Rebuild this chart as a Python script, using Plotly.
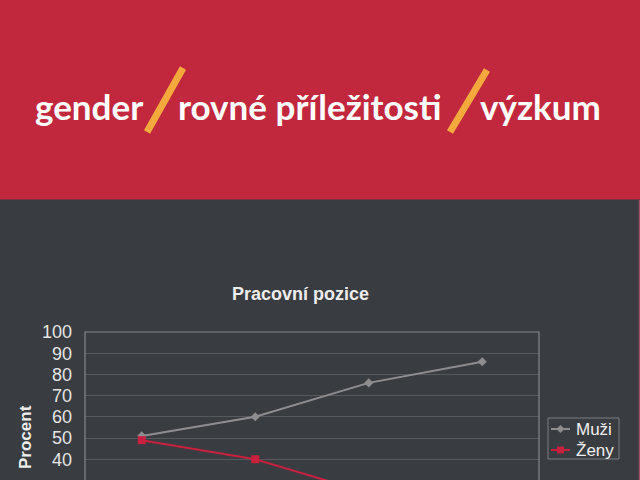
import plotly.graph_objects as go

categories = ["1", "2", "3", "4"]
muzi = [51, 60, 76, 86]
zeny = [49, 40, 24, 14]
series_names = ["Muži", "Ženy"]
chart_title = "Pracovní pozice"
y_title = "Procent"
banner_parts = ["gender", "rovné příležitosti", "výzkum"]

W, H = 640, 480
L, R = 85, 539      # plot area left/right in px
T, B = 332, 480     # plot area top/bottom in px

def px(xp):
    return (xp - L) / (R - L)

def py(yp):
    return (B - yp) / (B - T)

DARK = "#393C40"
RED = "#C1283E"
ORANGE = "#F3A93C"
GRAY_LINE = "#8E8E90"
RED_LINE = "#C8213F"

fig = go.Figure()
fig.add_trace(go.Scatter(
    x=categories, y=muzi, name=series_names[0], mode="lines+markers",
    line=dict(color=GRAY_LINE, width=2),
    marker=dict(symbol="diamond", size=7, color=GRAY_LINE),
))
fig.add_trace(go.Scatter(
    x=categories, y=zeny, name=series_names[1], mode="lines+markers",
    line=dict(color=RED_LINE, width=2),
    marker=dict(symbol="square", size=8, color=RED_LINE),
))

# legend geometry (px)
LEG_Y = [429, 450]
LEG_X0, LEG_X1, LEG_XM = 551, 570, 560.5

shapes = [
    # red banner
    dict(type="rect", xref="paper", yref="paper", x0=px(-20), x1=px(660),
         y0=py(199.5), y1=py(-20), fillcolor=RED, line=dict(width=0), layer="below"),
    # plot frame (bottom off-canvas)
    dict(type="rect", xref="paper", yref="paper", x0=0, x1=1, y0=py(520), y1=1,
         line=dict(color="#85878A", width=1.2), fillcolor="rgba(0,0,0,0)"),
    # legend box
    dict(type="rect", xref="paper", yref="paper", x0=px(548), x1=px(619), y0=py(459), y1=py(418),
         line=dict(color="#7A7C80", width=1), fillcolor="rgba(0,0,0,0)"),
    # legend samples
    dict(type="line", xref="paper", yref="paper", x0=px(LEG_X0), x1=px(LEG_X1),
         y0=py(LEG_Y[0]), y1=py(LEG_Y[0]), line=dict(color=GRAY_LINE, width=2)),
    dict(type="path", xref="paper", yref="paper",
         path=(f"M {px(LEG_XM - 4)} {py(LEG_Y[0])} L {px(LEG_XM)} {py(LEG_Y[0] - 4)} "
               f"L {px(LEG_XM + 4)} {py(LEG_Y[0])} L {px(LEG_XM)} {py(LEG_Y[0] + 4)} Z"),
         fillcolor=GRAY_LINE, line=dict(width=0)),
    dict(type="line", xref="paper", yref="paper", x0=px(LEG_X0), x1=px(LEG_X1),
         y0=py(LEG_Y[1]), y1=py(LEG_Y[1]), line=dict(color=RED_LINE, width=2)),
    dict(type="rect", xref="paper", yref="paper", x0=px(LEG_XM - 3.5), x1=px(LEG_XM + 3.5),
         y0=py(LEG_Y[1] + 3.5), y1=py(LEG_Y[1] - 3.5), fillcolor=RED_LINE, line=dict(width=0)),
    # orange slashes
    dict(type="line", xref="paper", yref="paper", x0=px(147), y0=py(132), x1=px(183), y1=py(68),
         line=dict(color=ORANGE, width=7)),
    dict(type="line", xref="paper", yref="paper", x0=px(450), y0=py(132), x1=px(487), y1=py(70),
         line=dict(color=ORANGE, width=7)),
    # right edge thin line
    dict(type="line", xref="paper", yref="paper", x0=px(639.5), x1=px(639.5), y0=py(200), y1=py(490),
         line=dict(color="#A0506A", width=1.5)),
]

ann_font = dict(family="Lato, Open Sans, sans-serif", size=35, color="white")
leg_font = dict(family="Liberation Sans, Arial", size=17, color="#F0F0F0")
annotations = [
    dict(text=f"<b>{banner_parts[0]}</b>", xref="paper", yref="paper", x=px(89), y=py(106),
         xanchor="center", yanchor="middle", showarrow=False, font=ann_font),
    dict(text=f"<b>{banner_parts[1]}</b>", xref="paper", yref="paper", x=px(310), y=py(106),
         xanchor="center", yanchor="middle", showarrow=False, font=ann_font),
    dict(text=f"<b>{banner_parts[2]}</b>", xref="paper", yref="paper", x=px(540), y=py(106),
         xanchor="center", yanchor="middle", showarrow=False, font=ann_font),
    dict(text=f"<b>{chart_title}</b>", xref="paper", yref="paper", x=px(300), y=py(294),
         xanchor="center", yanchor="middle", showarrow=False,
         font=dict(family="Liberation Sans, Arial", size=18, color="#EDEDED")),
    dict(text=f"<b>{y_title}</b>", xref="paper", yref="paper", x=px(25.5), y=py(437.5),
         xanchor="center", yanchor="middle", textangle=-90, showarrow=False,
         font=dict(family="Liberation Sans, Arial", size=17, color="#EDEDED")),
    dict(text=series_names[0], xref="paper", yref="paper", x=px(574), y=py(LEG_Y[0]),
         xanchor="left", yanchor="middle", showarrow=False, font=leg_font),
    dict(text=series_names[1], xref="paper", yref="paper", x=px(574), y=py(LEG_Y[1]),
         xanchor="left", yanchor="middle", showarrow=False, font=leg_font),
]

fig.update_layout(
    width=W, height=H,
    margin=dict(l=L, r=W - R, t=T, b=H - B),
    paper_bgcolor=DARK, plot_bgcolor=DARK,
    showlegend=False,
    shapes=shapes,
    annotations=annotations,
    xaxis=dict(type="category", range=[-0.5, len(categories) - 0.5], showgrid=False,
               showline=False, zeroline=False, showticklabels=False, fixedrange=True),
    yaxis=dict(range=[30.2, 100], dtick=10, showgrid=True, gridcolor="#56595D", gridwidth=1,
               zeroline=False, showline=False,
               tickfont=dict(family="Liberation Sans, Arial", size=18, color="#E4E4E4"),
               ticklabelstandoff=12),
)

fig.write_html("out.html", config={"displayModeBar": False},
               post_script="document.body.style.margin='0px';")
